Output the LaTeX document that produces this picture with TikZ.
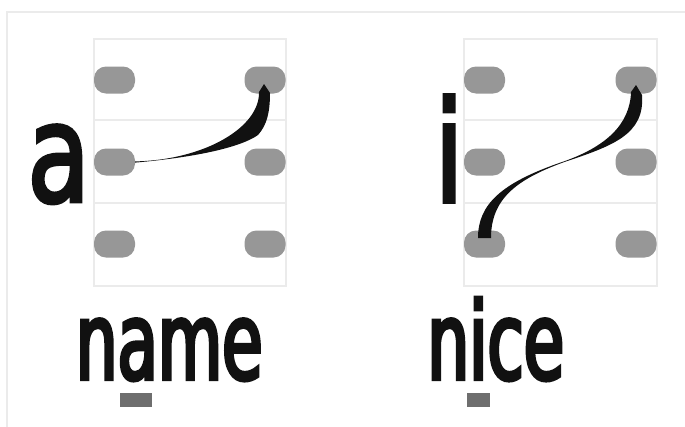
\documentclass[tikz,border=0pt]{standalone}
\usepackage{fontspec}
\usetikzlibrary{calc}
\newfontfamily\fontBigA{DejaVu Sans}[FakeStretch=0.74,FakeBold=2.6]
\newfontfamily\fontBigI{DejaVu Sans}[FakeStretch=0.7,FakeBold=3]
\newfontfamily\fontWord{DejaVu Sans}[FakeStretch=0.61,FakeBold=3.2]
\definecolor{gridc}{HTML}{EBEBEB}
\definecolor{pillc}{HTML}{979797}
\definecolor{barc}{HTML}{6E6E6E}
\definecolor{ink}{HTML}{111111}
\begin{document}
\begin{tikzpicture}[x=1pt,y=-1pt,
  pill/.style={fill=pillc, rounded corners=12pt, minimum width=41pt, minimum height=27pt, inner sep=0pt, draw=none},
  gridline/.style={draw=gridc, line width=1.4pt},
  frameline/.style={draw=gridc, line width=1.6pt},
  bigletter/.style={anchor=base, inner sep=0pt, text=ink},
  word/.style={anchor=base, inner sep=0pt, text=ink},
  markbar/.style={fill=barc, draw=none},
  ribbon/.style={fill=ink, draw=none}]
\useasboundingbox (0,0) rectangle (685,426);
\fill[white] (0,0) rectangle (685,426);
% outer frame
\draw[frameline] (690,12) -- (7,12) -- (7,430);
% grids
\draw[gridline] (94,39) rectangle (286,286);
\draw[gridline] (94,120) -- (286,120);
\draw[gridline] (94,203) -- (286,203);
\draw[gridline] (464,39) rectangle (657,286);
\draw[gridline] (464,120) -- (657,120);
\draw[gridline] (464,203) -- (657,203);
% pills left
\node[pill] (L11) at (114.5,80) {};
\node[pill] (L12) at (265,80) {};
\node[pill] (L21) at (114.5,162) {};
\node[pill] (L22) at (265,162) {};
\node[pill] (L31) at (114.5,244) {};
\node[pill] (L32) at (265,244) {};
% pills right
\node[pill] (R11) at (484.5,80) {};
\node[pill] (R12) at (636,80) {};
\node[pill] (R21) at (484.5,162) {};
\node[pill] (R22) at (636,162) {};
\node[pill] (R31) at (484.5,244) {};
\node[pill] (R32) at (636,244) {};
% left ribbon
\fill[ribbon] ($(L21.east)+(0,-0.6)$) .. controls (205,160) and (260,127) .. ($(L12)+(-6,12)$)
  -- ($(L12)+(-1,4)$) -- ($(L12)+(5,13)$)
  .. controls (270,112) and (267,125) .. (258,135)
  .. controls (241,147) and (198,157) .. ($(L21.east)+(0,0.6)$) -- cycle;
% right ribbon
\coordinate (Rm) at ($(R21)!0.52!(R22)$);
\fill[ribbon] ($(R31)+(-6.5,-6)$) .. controls (478,205) and (500,183) .. ($(Rm)+(0,-0.4)$)
  .. controls (605,147) and (630,125) .. ($(R12)+(-5,12)$)
  -- ($(R12)+(0,5)$) -- ($(R12)+(6,15)$)
  .. controls (645,135) and (612,146) .. ($(Rm)+(0,0.4)$)
  .. controls (515,180) and (491,200) .. ($(R31)+(6.5,-6)$) -- cycle;
% big letters
\node[bigletter, font={\fontsize{137}{137}\selectfont\fontBigA}] (biga) at (58.7,201.7) {a};
\node[bigletter, font={\fontsize{140}{140}\selectfont\fontBigI}] (bigi) at (449,201.7) {i};
% words
\node[word, font={\fontsize{108}{108}\selectfont\fontWord}] (wname) at (169.2,379.3) {name};
\node[word, font={\fontsize{108}{108}\selectfont\fontWord}] (wnice) at (495.8,379.3) {nice};
% marker bars
\fill[markbar] (120,393) rectangle (152,407);
\fill[markbar] (467,393) rectangle (490,407);
\end{tikzpicture}
\end{document}
